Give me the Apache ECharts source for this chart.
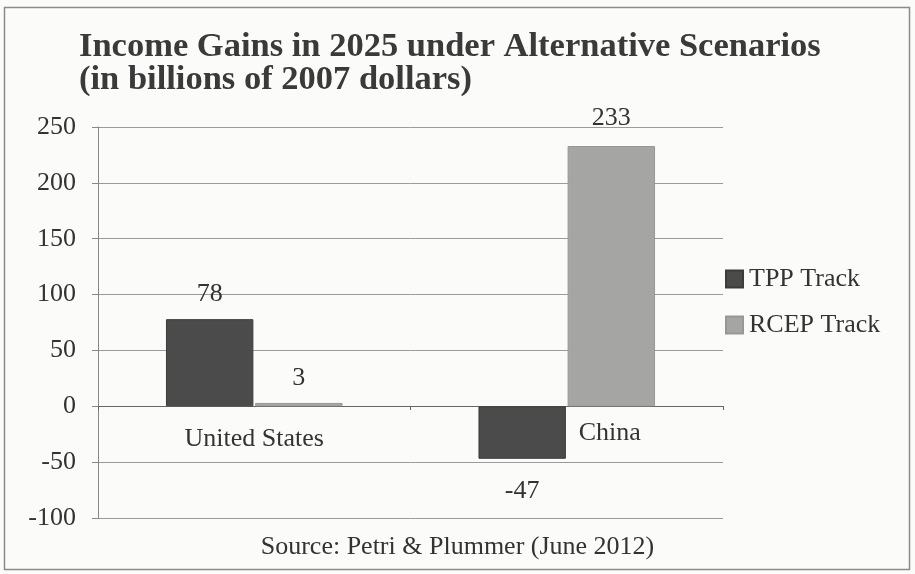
<!DOCTYPE html>
<html>
<head>
<meta charset="utf-8">
<script src="https://cdn.jsdelivr.net/npm/echarts@6/dist/echarts.min.js"></script>
<style>
html,body{margin:0;padding:0;background:#fbfbf9;}
#c{width:915px;height:574px;}
</style>
</head>
<body>
<div id="c"></div>
<script>
const categories = ['United States', 'China'];
const tppValues = [78, -47];
const rcepValues = [3, 233];
const seriesNames = ['TPP Track', 'RCEP Track'];
const yTicks = { min: -100, max: 250, interval: 50 };
const titleText = 'Income Gains in 2025 under Alternative Scenarios\n(in billions of 2007 dollars)';
const sourceText = 'Source: Petri & Plummer (June 2012)';

const FONT = '"Liberation Serif", "Times New Roman", serif';
const chart = echarts.init(document.getElementById('c'), null, {renderer: 'canvas'});

const GRID = {left: 98, right: 192, top: 127, bottom: 56};
const plotH = 574 - GRID.top - GRID.bottom;
const zeroOffset = -Math.round(plotH * (0 - yTicks.min) / (yTicks.max - yTicks.min));

const labelBase = {show: true, position: 'top', distance: 12, fontFamily: FONT, fontSize: 26, color: '#333'};

function withLabels(vals, overrides) {
  return vals.map((v, i) => overrides[i] ? {value: v, label: overrides[i]} : v);
}

chart.setOption({
  backgroundColor: '#fbfbf9',
  animation: false,
  title: [
    {text: titleText, left: 74, top: 26,
     textStyle: {fontFamily: FONT, fontSize: 34.5, fontWeight: 'bold', color: '#3a3a3a', lineHeight: 33}},
    {text: sourceText, left: 'center', top: 529,
     textStyle: {fontFamily: FONT, fontSize: 26, fontWeight: 'normal', color: '#333'}}
  ],
  graphic: [{type: 'rect', shape: {x: 4.5, y: 7.5, width: 905, height: 562},
    style: {fill: 'none', stroke: '#8a8a8a', lineWidth: 1.5}, silent: true}],
  legend: {
    orient: 'vertical', left: 725, top: 266, padding: 0, itemWidth: 17, itemHeight: 17, itemGap: 20,
    icon: 'rect',
    textStyle: {fontFamily: FONT, fontSize: 26, color: '#333', padding: [0, 0, 0, 1]},
    data: seriesNames
  },
  grid: GRID,
  xAxis: {
    type: 'category', data: categories,
    offset: zeroOffset,
    axisLine: {onZero: false, lineStyle: {color: '#666', width: 1}},
    axisTick: {show: true, length: 4, lineStyle: {color: '#666'}},
    axisLabel: {
      margin: 14, interval: 0,
      formatter: v => v === categories[1] ? '{c|' + v + '}' : '{u|' + v + '}',
      rich: {
        u: {fontFamily: FONT, fontSize: 26, color: '#333', padding: [6, 0, 0, 0]},
        c: {fontFamily: FONT, fontSize: 26, color: '#333', padding: [0, 0, 0, 86]}
      }
    }
  },
  yAxis: {
    type: 'value', min: yTicks.min, max: yTicks.max, interval: yTicks.interval,
    axisLine: {show: true, lineStyle: {color: '#888'}},
    axisTick: {show: true, length: 6, lineStyle: {color: '#888'}},
    axisLabel: {margin: 22, fontFamily: FONT, fontSize: 26, color: '#333'},
    splitLine: {lineStyle: {color: '#9a9a9a', width: 1}}
  },
  series: [
    {name: seriesNames[0], type: 'bar', barGap: '2%', barCategoryGap: '43.5%',
     itemStyle: {color: '#4b4b4b', borderColor: '#3c3c3c', borderWidth: 1},
     label: labelBase,
     data: withLabels(tppValues, {1: {position: 'bottom', distance: 19}})},
    {name: seriesNames[1], type: 'bar', barGap: '2%', barCategoryGap: '43.5%',
     itemStyle: {color: '#a5a5a3', borderColor: '#979795', borderWidth: 1},
     label: labelBase,
     data: withLabels(rcepValues, {1: {position: 'top', distance: 15}})}
  ]
});
</script>
</body>
</html>
